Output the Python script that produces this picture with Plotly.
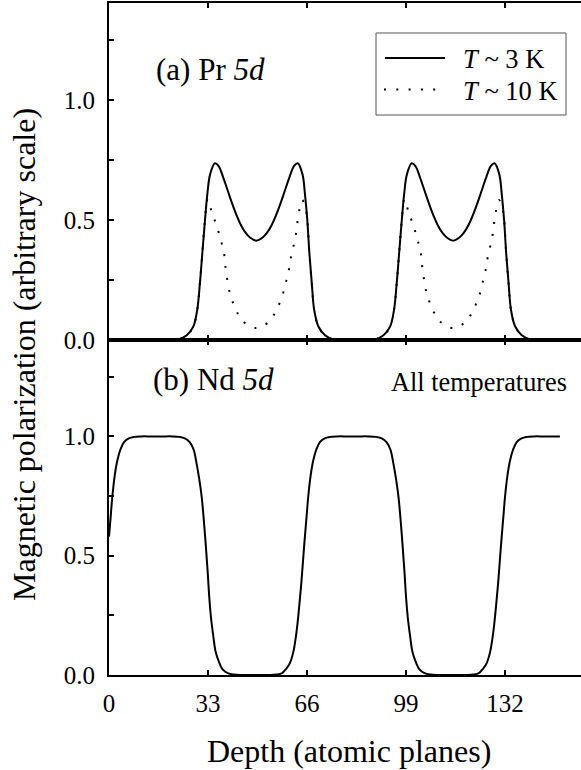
import plotly.graph_objects as go

# ---------------- data ----------------
# (a) Pr 5d, T ~ 3 K (solid)
depth_3k = [0, 20.0, 22.6, 25.9, 28.1, 29.4, 30.3, 31.1, 32.0, 32.8, 33.7, 35.3, 36.5, 38.0,
            39.5, 41.0, 42.5, 44.0, 45.5, 47.0, 49.1, 51.2, 52.7, 54.2, 55.7, 57.2, 58.7,
            60.2, 61.7, 62.9, 64.5, 65.3, 66.1, 66.8, 67.6, 68.4, 69.8, 72.0, 75.3, 86.0,
            88.2, 91.5, 93.7, 95.0, 95.9, 96.7, 97.6, 98.4, 99.3, 100.9, 102.1, 103.6,
            105.1, 106.6, 108.1, 109.6, 111.1, 112.6, 114.7, 116.8, 118.3, 119.8, 121.3,
            122.8, 124.3, 125.8, 127.3, 128.5, 130.1, 130.9, 131.7, 132.4, 133.2, 134.0,
            135.4, 137.6, 140.9, 150.0]
pol_3k = [0, 0, 0, 0.02, 0.056, 0.125, 0.236, 0.36, 0.5, 0.61, 0.69, 0.736, 0.725, 0.68,
          0.625, 0.57, 0.52, 0.478, 0.447, 0.427, 0.414, 0.427, 0.447, 0.478, 0.52, 0.57, 0.625,
          0.68, 0.725, 0.736, 0.69, 0.61, 0.5, 0.36, 0.236, 0.125, 0.056, 0.02, 0, 0,
          0, 0.02, 0.056, 0.125, 0.236, 0.36, 0.5, 0.61, 0.69, 0.736, 0.725, 0.68,
          0.625, 0.57, 0.52, 0.478, 0.447, 0.427, 0.414, 0.427, 0.447, 0.478, 0.52,
          0.57, 0.625, 0.68, 0.725, 0.736, 0.69, 0.61, 0.5, 0.36, 0.236, 0.125,
          0.056, 0.02, 0, 0]

# (a) Pr 5d, T ~ 10 K (dotted)
depth_10k = [0, 20.0, 22.6, 25.9, 28.1, 29.4, 30.3, 31.1, 32.0, 32.9, 34.2, 35.9, 37.2, 38.3,
             38.8, 40.3, 41.9, 44.4, 48.9, 53.3, 56.1, 57.9, 59.2, 60.1, 60.8, 62.0, 62.6,
             63.4, 64.4, 65.5, 66.1, 66.8, 67.6, 68.4, 69.8, 72.0, 75.3, 86.0,
             88.2, 91.5, 93.7, 95.0, 95.9, 96.7, 97.6, 98.5, 99.8, 101.5, 102.8, 103.9,
             104.4, 105.9, 107.5, 110.0, 114.5, 118.9, 121.7, 123.5, 124.8, 125.7, 126.4,
             127.6, 128.2, 129.0, 130.0, 131.1, 131.7, 132.4, 133.2, 134.0, 135.4, 137.6,
             140.9, 150.0]
pol_10k = [0, 0, 0, 0.02, 0.056, 0.125, 0.236, 0.36, 0.5, 0.587, 0.535, 0.475, 0.42, 0.365,
           0.306, 0.194, 0.139, 0.081, 0.05, 0.076, 0.133, 0.189, 0.253, 0.301, 0.357, 0.417,
           0.472, 0.538, 0.583, 0.55, 0.5, 0.36, 0.236, 0.125, 0.056, 0.02, 0, 0,
           0, 0.02, 0.056, 0.125, 0.236, 0.36, 0.5, 0.587, 0.535, 0.475, 0.42, 0.365,
           0.306, 0.194, 0.139, 0.081, 0.05, 0.076, 0.133, 0.189, 0.253, 0.301, 0.357,
           0.417, 0.472, 0.538, 0.583, 0.55, 0.5, 0.36, 0.236, 0.125, 0.056, 0.02,
           0, 0]

# (b) Nd 5d, all temperatures
depth_nd = [0, 0.6, 1.1, 1.9, 2.8, 3.8, 5.0, 6.6, 8.4, 10.7, 14.2, 17.7, 21.2,
            23.5, 25.3, 26.9, 28.2, 29.2, 30.1, 30.9, 31.6, 32.3, 32.9, 33.4, 34.0, 34.8,
            35.5, 36.4, 37.8, 39.6, 41.5, 44.0, 47.2, 50.4, 53.5,
            55.8, 57.7, 59.0, 60.3, 61.5, 62.6, 63.5, 64.2, 64.8, 65.3, 65.9, 66.4, 67.2,
            68.1, 69.1, 70.3, 71.9, 73.7, 76.0, 79.5, 83.0, 86.5,
            89.1, 90.9, 92.5, 93.8, 94.8, 95.7, 96.5, 97.2, 97.9, 98.5, 99.0, 99.6, 100.4,
            101.1, 102.0, 103.4, 105.2, 107.1, 109.6, 112.8, 116.0, 119.1,
            121.4, 123.3, 124.6, 125.9, 127.1, 128.2, 129.1, 129.8, 130.4, 130.9, 131.5,
            132.0, 132.8, 133.7, 134.7, 135.9, 137.5, 139.3, 141.6, 145.0, 150.3]
pol_nd = [0.58, 0.67, 0.746, 0.835, 0.9, 0.945, 0.976, 0.992, 0.998, 1.0, 1.0, 1.0, 1.0,
          0.998, 0.992, 0.976, 0.945, 0.886, 0.82, 0.746, 0.65, 0.537, 0.43, 0.33, 0.24, 0.16,
          0.10, 0.063, 0.025, 0.008, 0.002, 0.0, 0.0, 0.0, 0.0,
          0.002, 0.008, 0.025, 0.05, 0.10, 0.19, 0.3, 0.4, 0.5, 0.58, 0.67, 0.746, 0.835,
          0.9, 0.945, 0.976, 0.992, 0.998, 1.0, 1.0, 1.0, 1.0,
          0.998, 0.992, 0.976, 0.945, 0.886, 0.82, 0.746, 0.65, 0.537, 0.43, 0.33, 0.24, 0.16,
          0.10, 0.063, 0.025, 0.008, 0.002, 0.0, 0.0, 0.0, 0.0,
          0.002, 0.008, 0.025, 0.05, 0.10, 0.19, 0.3, 0.4, 0.5, 0.58, 0.67,
          0.746, 0.835, 0.9, 0.945, 0.976, 0.992, 0.998, 1.0, 1.0, 1.0]

x_tickvals = [0, 33, 66, 99, 132]
y_tickvals = [0, 0.25, 0.5, 0.75, 1.0, 1.25]
y_ticktext = ["0.0", "", "0.5", "", "1.0", ""]

legend_labels = ["<i>T</i> ~ 3 K", "<i>T</i> ~ 10 K"]

# ---------------- figure ----------------
FONT = "Liberation Serif"
W, H = 581, 770
L, R, T, B = 109, 0, 3, 95
PW, PH = W - L - R, H - T - B


def px(xp):
    return (xp - L) / PW


def py(yp):
    return (H - B - yp) / PH


split = py(340)

fig = go.Figure()
fig.add_trace(go.Scatter(x=depth_10k, y=pol_10k, mode="lines", xaxis="x", yaxis="y",
                         line=dict(color="black", width=2, dash="2px,10px", shape="spline"),
                         showlegend=False, hoverinfo="skip"))
fig.add_trace(go.Scatter(x=depth_3k, y=pol_3k, mode="lines", xaxis="x", yaxis="y",
                         line=dict(color="black", width=2, shape="spline"),
                         showlegend=False, hoverinfo="skip"))
fig.add_trace(go.Scatter(x=depth_nd, y=pol_nd, mode="lines", xaxis="x2", yaxis="y2",
                         line=dict(color="black", width=2, shape="spline"),
                         showlegend=False, hoverinfo="skip"))

xr = [0, PW / 3.0]
yr = [0, 1.404]

common_x = dict(range=xr, showline=True, linecolor="black", linewidth=2, mirror="ticks",
                ticks="inside", ticklen=5, tickwidth=1.5, tickcolor="black",
                tickvals=x_tickvals, showgrid=False, zeroline=False,
                tickfont=dict(family=FONT, size=25, color="black"), ticklabelstandoff=5)
common_y = dict(range=yr, showline=True, linecolor="black", linewidth=2,
                ticks="inside", ticklen=5, tickwidth=1.5, tickcolor="black",
                tickvals=y_tickvals, ticktext=y_ticktext, showgrid=False, zeroline=False,
                tickfont=dict(family=FONT, size=25, color="black"), ticklabelstandoff=7)

fig.update_layout(
    width=W, height=H, autosize=False,
    margin=dict(l=L, r=R, t=T, b=B, pad=0),
    paper_bgcolor="white", plot_bgcolor="white",
    showlegend=False,
    xaxis=dict(domain=[0, 1], anchor="y", showticklabels=False, **common_x),
    yaxis=dict(domain=[split, 1], anchor="x", **common_y),
    xaxis2=dict(domain=[0, 1], anchor="y2", showticklabels=True, **common_x),
    yaxis2=dict(domain=[0, split], anchor="x2", **common_y),
)

ann = []
ann.append(dict(text="Magnetic polarization (arbitrary scale)", textangle=-90,
                xref="paper", yref="paper", x=0, y=py(355), xshift=-85,
                xanchor="center", yanchor="middle", showarrow=False,
                font=dict(family=FONT, size=32, color="black")))
ann.append(dict(text="Depth (atomic planes)", xref="paper", yref="paper",
                x=px(348.5), y=0, yshift=-76, xanchor="center", yanchor="middle",
                showarrow=False, font=dict(family=FONT, size=32, color="black")))
ann.append(dict(text="(a) Pr <i>5d</i>", xref="paper", yref="paper", x=px(154), y=py(70),
                xanchor="left", yanchor="middle", showarrow=False,
                font=dict(family=FONT, size=31, color="black")))
ann.append(dict(text="(b) Nd <i>5d</i>", xref="paper", yref="paper", x=px(150.5), y=py(379),
                xanchor="left", yanchor="middle", showarrow=False,
                font=dict(family=FONT, size=31, color="black")))
ann.append(dict(text="All temperatures", xref="paper", yref="paper", x=px(569), y=py(382),
                xanchor="right", yanchor="middle", showarrow=False,
                font=dict(family=FONT, size=26.3, color="black")))
for lab, yc in zip(legend_labels, [59.5, 90.5]):
    ann.append(dict(text=lab, xref="paper", yref="paper", x=px(461), y=py(yc),
                    xanchor="left", yanchor="middle", showarrow=False,
                    font=dict(family=FONT, size=26.5, color="black")))
fig.update_layout(annotations=ann)

shapes = [
    dict(type="rect", xref="paper", yref="paper", x0=px(376), x1=px(566), y0=py(115), y1=py(33),
         line=dict(color="#555555", width=1), fillcolor="rgba(0,0,0,0)"),
    dict(type="line", xref="paper", yref="paper", x0=px(385), x1=px(445), y0=py(58), y1=py(58),
         line=dict(color="black", width=2)),
    dict(type="line", xref="paper", yref="paper", x0=px(384), x1=px(438), y0=py(89.5), y1=py(89.5),
         line=dict(color="black", width=2, dash="2px,10.3px")),
]
fig.update_layout(shapes=shapes)

fig.write_html("out.html", config={"displayModeBar": False},
               post_script="document.body.style.margin='0';document.body.style.padding='0';"
                           "document.body.style.overflow='hidden';")
